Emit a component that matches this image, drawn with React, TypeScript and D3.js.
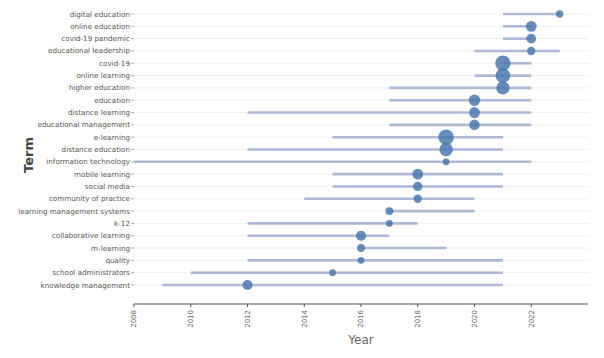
import React from "react";
import * as d3 from "d3";

const terms = [
  "digital education", "online education", "covid-19 pandemic", "educational leadership",
  "covid-19", "online learning", "higher education", "education", "distance learning",
  "educational management", "e-learning", "distance education", "information technology",
  "mobile learning", "social media", "community of practice", "learning management systems",
  "k-12", "collaborative learning", "m-learning", "quality", "school administrators",
  "knowledge management",
];
const yearStart = [2021, 2021, 2021, 2020, 2021, 2020, 2017, 2017, 2012, 2017, 2015, 2012, 2008, 2015, 2015, 2014, 2017, 2012, 2012, 2016, 2012, 2010, 2009];
const yearEnd = [2023, 2022, 2022, 2023, 2022, 2022, 2022, 2022, 2022, 2022, 2021, 2021, 2022, 2021, 2021, 2020, 2020, 2018, 2017, 2019, 2021, 2021, 2021];
const yearMedian = [2023, 2022, 2022, 2022, 2021, 2021, 2021, 2020, 2020, 2020, 2019, 2019, 2019, 2018, 2018, 2018, 2017, 2017, 2016, 2016, 2016, 2015, 2012];
const frequency = [14, 30, 24, 18, 60, 55, 45, 34, 30, 28, 62, 46, 12, 30, 22, 18, 16, 12, 26, 16, 12, 12, 26];
const xTicks = [2008, 2010, 2012, 2014, 2016, 2018, 2020, 2022];

export default function App() {
  const W = 604, H = 358;
  const left = 134, right = 588, top = 14, bottom = 285;
  const x = d3.scaleLinear().domain([2008, 2024]).range([left, right]);
  const y = d3.scalePoint<string>().domain(terms).range([top, bottom]);
  const r = d3.scaleSqrt().domain([0, d3.max(frequency) as number]).range([0, 7.8]);
  const axisY = 304;
  return (
    <svg width={W} height={H} style={{ position: "absolute", left: 0, top: 0, background: "#fff" }}>
      <g fontFamily="'DejaVu Sans', Verdana, sans-serif">
        {terms.map((t) => (
          <line key={"g" + t} x1={left} x2={right + 1} y1={y(t)} y2={y(t)} stroke="#efefef" strokeWidth={1} />
        ))}
        {terms.map((t) => (
          <g key={"l" + t}>
            <line x1={left - 3} x2={left} y1={y(t)} y2={y(t)} stroke="#999" strokeWidth={0.8} />
            <text x={left - 4} y={y(t)} dy="0.35em" textAnchor="end" fontSize={7.2} fill="#555">{t}</text>
          </g>
        ))}
        {terms.map((t, i) => (
          <line key={"r" + t} x1={x(yearStart[i])} x2={x(yearEnd[i])} y1={y(t)} y2={y(t)} stroke="#aeb9d6" strokeWidth={2.6} />
        ))}
        {terms.map((t, i) => (
          <circle key={"c" + t} cx={x(yearMedian[i])} cy={y(t)} r={r(frequency[i])} fill="#4a78ae" fillOpacity={0.85} />
        ))}
        <line x1={left} x2={right} y1={axisY} y2={axisY} stroke="#555" strokeWidth={1} />
        {xTicks.map((v) => (
          <g key={"x" + v} transform={`translate(${x(v)},${axisY})`}>
            <line y1={0} y2={3} stroke="#555" />
            <text transform="translate(0,6) rotate(-90)" dy="0.35em" textAnchor="end" fontSize={7} fill="#666">{v}</text>
          </g>
        ))}
        <text x={(left + right) / 2} y={344} textAnchor="middle" fontSize={12} fill="#666">Year</text>
        <text transform={`translate(33,155) rotate(-90)`} textAnchor="middle" fontSize={13} fontWeight="bold" fill="#444">Term</text>
      </g>
    </svg>
  );
}
